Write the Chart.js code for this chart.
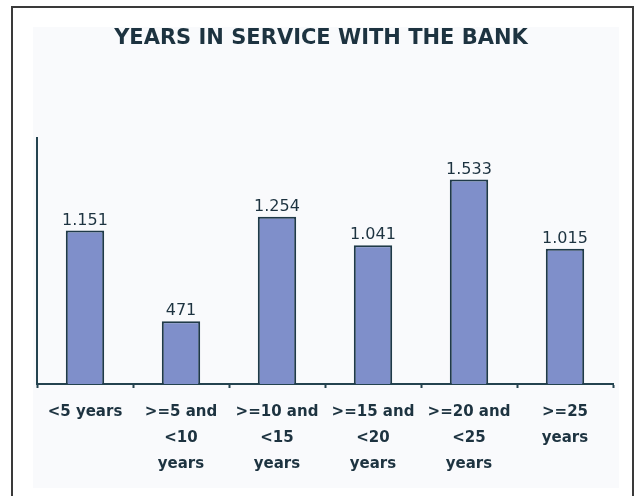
<!DOCTYPE html>
<html>
<head>
<meta charset="utf-8">
<script src="https://cdn.jsdelivr.net/npm/chart.js@4/dist/chart.umd.min.js"></script>
<style>
    html, body { margin: 0; padding: 0; background: #fff; }
    #wrap { width: 640px; height: 496px; position: relative; }
</style>
</head>
<body>
<div id="wrap"><canvas id="chart" width="640" height="496"></canvas></div>
<script>
// --- DATA ---
const chartTitle = 'YEARS IN SERVICE WITH THE BANK';
const categories = [
    ['<5 years'],
    ['>=5 and', '<10', 'years'],
    ['>=10 and', '<15', 'years'],
    ['>=15 and', '<20', 'years'],
    ['>=20 and', '<25', 'years'],
    ['>=25', 'years'],
];
const employees = [1151, 471, 1254, 1041, 1533, 1015];

const inkColor = '#1d3340';
const axisColor = '#24434f';
const fontFamily = '"DejaVu Sans", "Liberation Sans", Arial, sans-serif';

// 1.151 style (dot as thousands separator)
const formatValue = (v) => new Intl.NumberFormat('de-DE').format(v);

// Frame, background and title drawn behind the chart
const framePlugin = {
    id: 'frame',
    beforeDraw(chart) {
        const { ctx } = chart;
        ctx.save();
        ctx.fillStyle = '#ffffff';
        ctx.fillRect(0, 0, chart.width, chart.height);
        ctx.fillStyle = '#f9fafc';
        ctx.fillRect(33, 27, 586, 461);
        ctx.strokeStyle = '#3a3a3a';
        ctx.lineWidth = 2;
        ctx.strokeRect(12, 7, 621, 520);
        ctx.fillStyle = inkColor;
        ctx.font = `bold 21px ${fontFamily}`;
        ctx.textAlign = 'center';
        ctx.textBaseline = 'middle';
        ctx.fillText(chartTitle, 321, 39);
        ctx.restore();
    }
};

// Value labels above bars
const valueLabelPlugin = {
    id: 'valueLabels',
    afterDatasetsDraw(chart) {
        const { ctx } = chart;
        const meta = chart.getDatasetMeta(0);
        ctx.save();
        ctx.fillStyle = inkColor;
        ctx.font = `16px ${fontFamily}`;
        ctx.textAlign = 'center';
        ctx.textBaseline = 'bottom';
        meta.data.forEach((bar, i) => {
            ctx.fillText(formatValue(employees[i]), bar.x, bar.y - 2);
        });
        ctx.restore();
    }
};

new Chart(document.getElementById('chart'), {
    type: 'bar',
    data: {
        labels: categories,
        datasets: [{
            data: employees,
            backgroundColor: '#7f8fca',
            borderColor: '#1f3a48',
            borderWidth: 2,
            categoryPercentage: 1,
            barPercentage: 0.4,
        }]
    },
    options: {
        responsive: false,
        animation: false,
        layout: { padding: { left: 37, right: 27, top: 138, bottom: 0 } },
        plugins: {
            legend: { display: false },
            title: { display: false },
            tooltip: { enabled: false },
        },
        scales: {
            x: {
                afterFit(scale) { scale.height = 112; },
                grid: {
                    display: true,
                    drawOnChartArea: false,
                    drawTicks: true,
                    tickLength: 4,
                    tickColor: axisColor,
                    tickWidth: 2,
                    offset: true,
                },
                border: { display: true, color: axisColor, width: 2 },
                ticks: {
                    color: inkColor,
                    font: { family: fontFamily, size: 15, weight: 'bold', lineHeight: 1.73 },
                    padding: 11,
                    maxRotation: 0,
                    autoSkip: false,
                },
            },
            y: {
                min: 0,
                max: 1845,
                afterFit(scale) { scale.width = 0; },
                grid: { display: false },
                border: { display: true, color: axisColor, width: 2 },
                ticks: { display: false },
            }
        }
    },
    plugins: [framePlugin, valueLabelPlugin]
});
</script>
</body>
</html>
